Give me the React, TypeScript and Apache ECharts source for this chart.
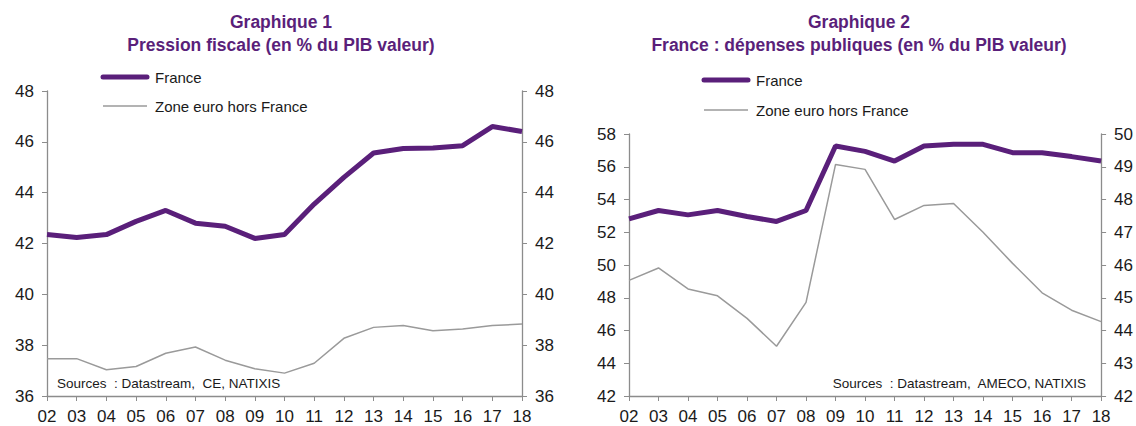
import React, { useEffect, useRef } from "react";
import * as echarts from "echarts";

const years = ["02","03","04","05","06","07","08","09","10","11","12","13","14","15","16","17","18"];

// Graphique 1 : Pression fiscale
const fiscalFrance = [42.35, 42.24, 42.35, 42.87, 43.3, 42.8, 42.68, 42.2, 42.35, 43.55, 44.6, 45.56, 45.74, 45.76, 45.85, 46.6, 46.41];
const fiscalZone = [37.47, 37.47, 37.03, 37.16, 37.68, 37.93, 37.41, 37.07, 36.9, 37.29, 38.27, 38.7, 38.77, 38.57, 38.64, 38.77, 38.83];

// Graphique 2 : Dépenses publiques
const depFrance = [52.82, 53.33, 53.06, 53.33, 52.96, 52.66, 53.33, 57.27, 56.94, 56.35, 57.27, 57.37, 57.37, 56.86, 56.86, 56.62, 56.35];
const depZone = [45.53, 45.91, 45.27, 45.06, 44.37, 43.52, 44.86, 49.07, 48.92, 47.39, 47.82, 47.88, 47.0, 46.05, 45.15, 44.62, 44.27];

const title1 = ["Graphique 1", "Pression fiscale (en % du PIB valeur)"];
const title2 = ["Graphique 2", "France : dépenses publiques (en % du PIB valeur)"];
const legendNames = ["France", "Zone euro hors France"];
const source1 = "Sources  : Datastream,  CE, NATIXIS";
const source2 = "Sources  : Datastream,  AMECO, NATIXIS";

const PURPLE = "#5a1f7a";
const GREY = "#9a9a9a";
const AXIS = "#8c8c8c";
const FONT = "Liberation Sans, Arial, sans-serif";

function yAx(gridIndex: number, pos: string, min: number, max: number, interval: number) {
  return {
    type: "value",
    gridIndex,
    position: pos,
    min,
    max,
    interval,
    splitLine: { show: false },
    axisLine: { show: true, lineStyle: { color: AXIS, width: 1.3 } },
    axisTick: { show: true, inside: false, length: 5, lineStyle: { color: AXIS } },
    axisLabel: { color: "#1a1a1a", fontSize: 17, fontFamily: FONT, margin: 13 },
  };
}

function xAx(gridIndex: number) {
  return {
    type: "category",
    gridIndex,
    data: years,
    boundaryGap: false,
    axisLine: { show: true, lineStyle: { color: AXIS, width: 1.3 } },
    axisTick: { show: true, inside: false, length: 5, lineStyle: { color: AXIS } },
    axisLabel: { color: "#1a1a1a", fontSize: 17, fontFamily: FONT, margin: 12, interval: 0 },
  };
}

function titleText(cx: number, lines: string[]) {
  return lines.map((t, i) => ({
    type: "text",
    x: cx,
    y: 22 + i * 23,
    style: {
      text: t,
      fill: PURPLE,
      font: `bold 17.5px ${FONT}`,
      textAlign: "center",
      textVerticalAlign: "middle",
    },
  }));
}

function legendGraphic(x: number, y: number, gap: number) {
  return [
    { type: "line", shape: { x1: x, y1: y, x2: x + 44, y2: y }, style: { stroke: PURPLE, lineWidth: 5, lineCap: "round" } },
    { type: "text", x: x + 52, y, style: { text: legendNames[0], fill: "#1a1a1a", font: `15px ${FONT}`, textVerticalAlign: "middle" } },
    { type: "line", shape: { x1: x, y1: y + gap, x2: x + 44, y2: y + gap }, style: { stroke: GREY, lineWidth: 1.5 } },
    { type: "text", x: x + 52, y: y + gap, style: { text: legendNames[1], fill: "#1a1a1a", font: `15px ${FONT}`, textVerticalAlign: "middle" } },
  ];
}

export default function App() {
  const ref = useRef<HTMLDivElement>(null);
  useEffect(() => {
    if (!ref.current) return;
    const chart = echarts.init(ref.current, undefined, { renderer: "svg" });
    chart.setOption({
      animation: false,
      backgroundColor: "#ffffff",
      grid: [
        { left: 47, right: 1136 - 522, top: 91, bottom: 30 },
        { left: 629, right: 1136 - 1103, top: 134, bottom: 30 },
      ],
      xAxis: [xAx(0), xAx(1)],
      yAxis: [
        yAx(0, "left", 36, 48, 2),
        yAx(0, "right", 36, 48, 2),
        yAx(1, "left", 42, 58, 2),
        yAx(1, "right", 42, 50, 1),
      ],
      series: [
        { name: "Zone euro hors France", type: "line", xAxisIndex: 0, yAxisIndex: 1, data: fiscalZone, showSymbol: false, lineStyle: { color: GREY, width: 1.5 }, itemStyle: { color: GREY }, z: 2 },
        { name: "France", type: "line", xAxisIndex: 0, yAxisIndex: 0, data: fiscalFrance, showSymbol: false, lineStyle: { color: PURPLE, width: 5 }, itemStyle: { color: PURPLE }, z: 3 },
        { name: "Zone euro hors France ", type: "line", xAxisIndex: 1, yAxisIndex: 3, data: depZone, showSymbol: false, lineStyle: { color: GREY, width: 1.5 }, itemStyle: { color: GREY }, z: 2 },
        { name: "France ", type: "line", xAxisIndex: 1, yAxisIndex: 2, data: depFrance, showSymbol: false, lineStyle: { color: PURPLE, width: 5 }, itemStyle: { color: PURPLE }, z: 3 },
      ],
      graphic: [
        ...titleText(281, title1),
        ...titleText(859, title2),
        ...legendGraphic(103, 77, 29),
        ...legendGraphic(704, 80, 30),
        { type: "text", x: 57, y: 383, style: { text: source1, fill: "#1a1a1a", font: `13.5px ${FONT}`, textVerticalAlign: "middle" } },
        { type: "text", x: 1086, y: 383, style: { text: source2, fill: "#1a1a1a", font: `13.5px ${FONT}`, textAlign: "right", textVerticalAlign: "middle" } },
      ],
    });
    return () => chart.dispose();
  }, []);
  return <div ref={ref} style={{ position: "fixed", left: 0, top: 0, width: 1136, height: 426 }} />;
}
